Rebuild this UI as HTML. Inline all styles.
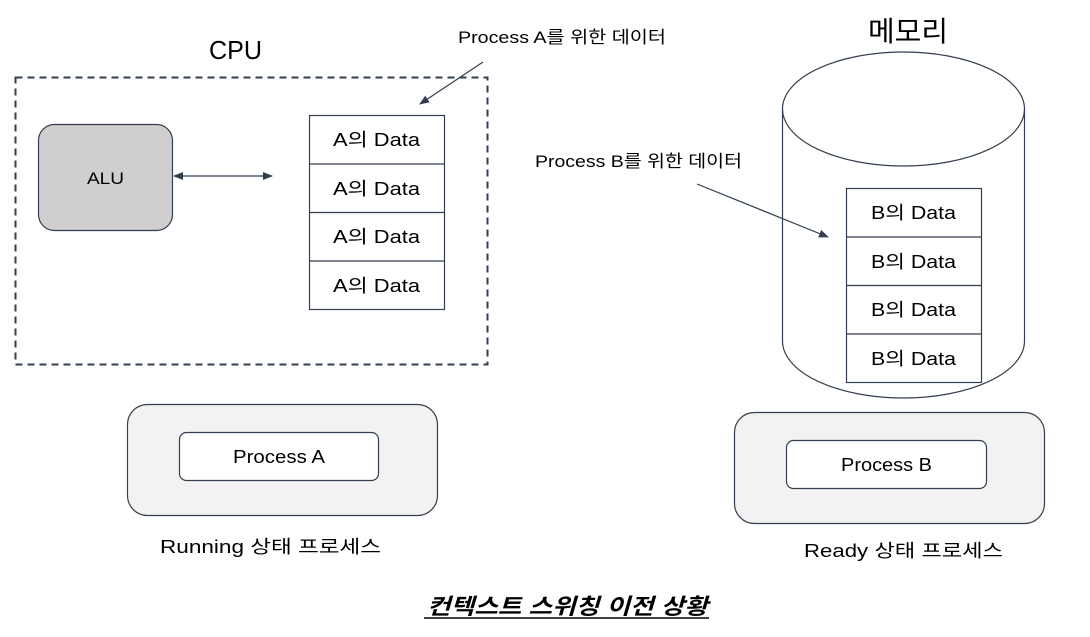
<!DOCTYPE html>
<html><head><meta charset="utf-8"><style>
body{margin:0;background:#fff;}
text{font-family:"Liberation Sans","Noto Sans CJK KR",sans-serif;fill:#000;}
</style></head><body>
<svg width="1090" height="632" viewBox="0 0 1090 632" xmlns="http://www.w3.org/2000/svg">
<defs>
<marker id="ar" markerWidth="10" markerHeight="8" refX="9" refY="4" orient="auto" markerUnits="userSpaceOnUse"><path d="M0,0 L10,4 L0,8 z" fill="#333f50"/></marker>
<marker id="al" markerWidth="10" markerHeight="8" refX="1" refY="4" orient="auto" markerUnits="userSpaceOnUse"><path d="M10,0 L0,4 L10,8 z" fill="#333f50"/></marker>
</defs>
<text x="209" y="59" font-size="26" textLength="53" lengthAdjust="spacingAndGlyphs">CPU</text>
<rect x="15.5" y="77.5" width="472" height="287" fill="none" stroke="#333f50" stroke-width="2" stroke-dasharray="7,5"/>
<rect x="38.5" y="124.5" width="134" height="106" rx="16" fill="#d0cece" stroke="#333f50" stroke-width="1.2"/>
<text x="87" y="184" font-size="17" textLength="37" lengthAdjust="spacingAndGlyphs">ALU</text>
<line x1="174" y1="176" x2="272" y2="176" stroke="#333f50" stroke-width="1.2" marker-start="url(#al)" marker-end="url(#ar)"/>
<g stroke="#333f50" stroke-width="1.2" fill="#fff">
<rect x="309.5" y="115.5" width="135" height="194"/>
<line x1="309.5" y1="164" x2="444.5" y2="164"/><line x1="309.5" y1="212.5" x2="444.5" y2="212.5"/><line x1="309.5" y1="261" x2="444.5" y2="261"/>
</g>
<g font-size="18">
<text x="333" y="146" textLength="87" lengthAdjust="spacingAndGlyphs">A의 Data</text>
<text x="333" y="195" textLength="87" lengthAdjust="spacingAndGlyphs">A의 Data</text>
<text x="333" y="243" textLength="87" lengthAdjust="spacingAndGlyphs">A의 Data</text>
<text x="333" y="292" textLength="87" lengthAdjust="spacingAndGlyphs">A의 Data</text>
</g>
<text x="458" y="43" font-size="17" textLength="208" lengthAdjust="spacingAndGlyphs">Process A를 위한 데이터</text>
<line x1="483" y1="62" x2="420" y2="104" stroke="#333f50" stroke-width="1.2" marker-end="url(#ar)"/>
<text x="868" y="41" font-size="28" textLength="80" lengthAdjust="spacingAndGlyphs">메모리</text>
<path d="M782.5,109 L782.5,341 A121,57 0 0 0 1024.5,341 L1024.5,109" fill="#fff" stroke="#333f50" stroke-width="1.2"/>
<ellipse cx="903.5" cy="109" rx="121" ry="57" fill="#fff" stroke="#333f50" stroke-width="1.2"/>
<g stroke="#333f50" stroke-width="1.2" fill="#fff">
<rect x="846.5" y="188.5" width="135" height="194"/>
<line x1="846.5" y1="237" x2="981.5" y2="237"/><line x1="846.5" y1="285.5" x2="981.5" y2="285.5"/><line x1="846.5" y1="334" x2="981.5" y2="334"/>
</g>
<g font-size="18">
<text x="871" y="219" textLength="85" lengthAdjust="spacingAndGlyphs">B의 Data</text>
<text x="871" y="268" textLength="85" lengthAdjust="spacingAndGlyphs">B의 Data</text>
<text x="871" y="316" textLength="85" lengthAdjust="spacingAndGlyphs">B의 Data</text>
<text x="871" y="365" textLength="85" lengthAdjust="spacingAndGlyphs">B의 Data</text>
</g>
<text x="535" y="167" font-size="17" textLength="207" lengthAdjust="spacingAndGlyphs">Process B를 위한 데이터</text>
<line x1="697" y1="184" x2="828" y2="237" stroke="#333f50" stroke-width="1.2" marker-end="url(#ar)"/>
<rect x="127.5" y="404.5" width="310" height="111" rx="20" fill="#f2f2f2" stroke="#333f50" stroke-width="1.2"/>
<rect x="179.5" y="432.5" width="199" height="48" rx="7" fill="#fff" stroke="#333f50" stroke-width="1.2"/>
<text x="233" y="463" font-size="18" textLength="92" lengthAdjust="spacingAndGlyphs">Process A</text>
<text x="160" y="553" font-size="18" textLength="221" lengthAdjust="spacingAndGlyphs">Running 상태 프로세스</text>
<rect x="734.5" y="412.5" width="310" height="111" rx="20" fill="#f2f2f2" stroke="#333f50" stroke-width="1.2"/>
<rect x="786.5" y="440.5" width="200" height="48" rx="7" fill="#fff" stroke="#333f50" stroke-width="1.2"/>
<text x="841" y="471" font-size="18" textLength="91" lengthAdjust="spacingAndGlyphs">Process B</text>
<text x="804" y="557" font-size="18" textLength="199" lengthAdjust="spacingAndGlyphs">Ready 상태 프로세스</text>
<text x="427" y="614" font-size="22" font-weight="bold" font-style="italic" textLength="281" lengthAdjust="spacingAndGlyphs">컨텍스트 스위칭 이전 상황</text>
<line x1="424" y1="618" x2="709" y2="618" stroke="#000" stroke-width="1.5"/>
</svg>
</body></html>
